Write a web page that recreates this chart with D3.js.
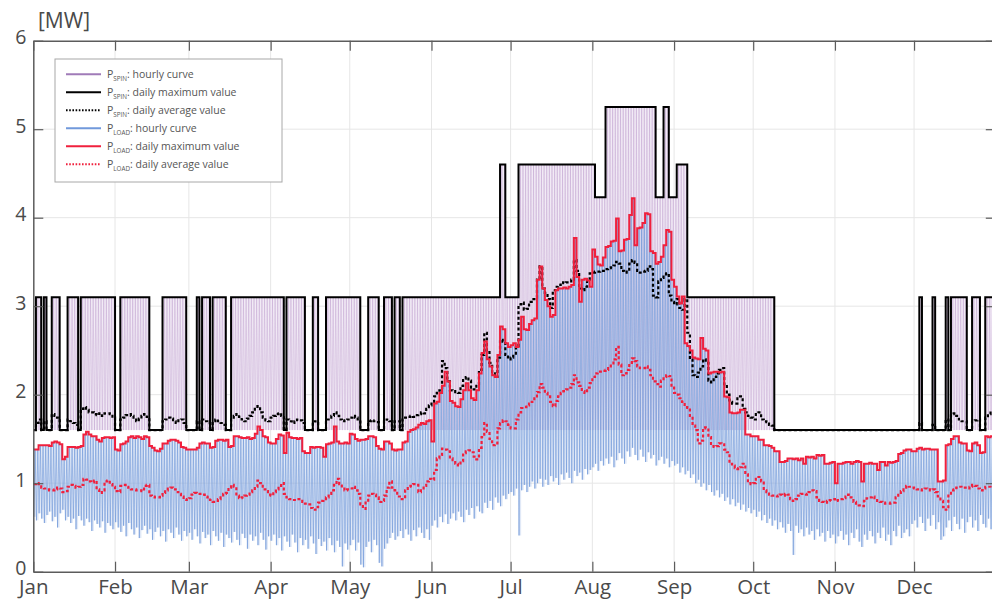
<!DOCTYPE html>
<html>
<head>
<meta charset="utf-8">
<script src="https://cdn.jsdelivr.net/npm/d3@7"></script>
<style>
  html, body { margin: 0; padding: 0; background: #fff; }
  svg { display: block; font-family: "Open Sans", "Noto Sans", sans-serif; }
</style>
</head>
<body>
<svg id="chart" width="992" height="601"></svg>
<script>
// ---- axis categories and ticks ----
const monthLabels = ["Jan", "Feb", "Mar", "Apr", "May", "Jun", "Jul", "Aug", "Sep", "Oct", "Nov", "Dec"];
const monthStarts = [0, 31, 59, 90, 120, 151, 181, 212, 243, 273, 304, 334];
const yTicks = [0, 1, 2, 3, 4, 5, 6];
const unitLabel = "[MW]";

// ---- spinning reserve: lower limit of the hourly curve [MW] ----
const spinFloor = 1.6;

// ---- spinning reserve: daily maximum [MW], one value per day ----
const spinMax = [
  1.6,3.1,3.1,1.6,3.1,1.6,1.6,3.1,3.1,3.1,1.6,1.6,1.6,3.1,3.1,3.1,3.1,1.6,3.1,3.1,3.1,3.1,3.1,3.1,3.1,3.1,3.1,3.1,3.1,3.1,3.1,
  1.6,1.6,3.1,3.1,3.1,3.1,3.1,3.1,3.1,3.1,3.1,3.1,3.1,1.6,1.6,1.6,1.6,1.6,3.1,3.1,3.1,3.1,3.1,3.1,3.1,3.1,3.1,1.6,
  1.6,1.6,1.6,3.1,1.6,3.1,3.1,3.1,1.6,3.1,3.1,3.1,3.1,3.1,1.6,1.6,3.1,3.1,3.1,3.1,3.1,3.1,3.1,3.1,3.1,3.1,3.1,3.1,3.1,3.1,3.1,
  3.1,3.1,3.1,3.1,3.1,1.6,3.1,3.1,3.1,3.1,3.1,3.1,3.1,1.6,1.6,1.6,3.1,3.1,1.6,1.6,1.6,3.1,3.1,3.1,3.1,3.1,3.1,3.1,3.1,3.1,
  3.1,3.1,3.1,3.1,1.6,1.6,1.6,3.1,3.1,3.1,3.1,1.6,1.6,3.1,3.1,3.1,1.6,3.1,3.1,1.6,3.1,3.1,3.1,3.1,3.1,3.1,3.1,3.1,3.1,3.1,3.1,
  3.1,3.1,3.1,3.1,3.1,3.1,3.1,3.1,3.1,3.1,3.1,3.1,3.1,3.1,3.1,3.1,3.1,3.1,3.1,3.1,3.1,3.1,3.1,3.1,3.1,3.1,4.6,4.6,3.1,3.1,
  3.1,3.1,3.1,4.6,4.6,4.6,4.6,4.6,4.6,4.6,4.6,4.6,4.6,4.6,4.6,4.6,4.6,4.6,4.6,4.6,4.6,4.6,4.6,4.6,4.6,4.6,4.6,4.6,4.6,4.6,4.6,
  4.6,4.23,4.23,4.23,4.23,5.25,5.25,5.25,5.25,5.25,5.25,5.25,5.25,5.25,5.25,5.25,5.25,5.25,5.25,5.25,5.25,5.25,5.25,5.25,4.23,4.23,4.23,5.25,5.25,4.23,4.23,
  4.23,4.6,4.6,4.6,4.6,3.1,3.1,3.1,3.1,3.1,3.1,3.1,3.1,3.1,3.1,3.1,3.1,3.1,3.1,3.1,3.1,3.1,3.1,3.1,3.1,3.1,3.1,3.1,3.1,3.1,
  3.1,3.1,3.1,3.1,3.1,3.1,3.1,3.1,1.6,1.6,1.6,1.6,1.6,1.6,1.6,1.6,1.6,1.6,1.6,1.6,1.6,1.6,1.6,1.6,1.6,1.6,1.6,1.6,1.6,1.6,1.6,
  1.6,1.6,1.6,1.6,1.6,1.6,1.6,1.6,1.6,1.6,1.6,1.6,1.6,1.6,1.6,1.6,1.6,1.6,1.6,1.6,1.6,1.6,1.6,1.6,1.6,1.6,1.6,1.6,1.6,1.6,
  1.6,1.6,3.1,1.6,1.6,1.6,1.6,3.1,1.6,1.6,1.6,1.6,3.1,1.6,3.1,3.1,3.1,3.1,3.1,3.1,1.6,1.6,3.1,3.1,3.1,1.6,1.6,3.1,3.1,3.1,3.1
];

// ---- spinning reserve: daily average [MW] ----
const spinAvg = [
  1.60,1.68,1.72,1.60,1.70,1.60,1.60,1.78,1.76,1.74,1.60,1.60,1.60,1.72,1.70,1.68,1.66,1.60,1.84,1.86,1.83,1.80,1.80,1.78,1.77,1.79,1.76,1.79,1.79,1.78,1.74,
  1.60,1.60,1.72,1.74,1.77,1.78,1.76,1.74,1.70,1.73,1.76,1.78,1.75,1.60,1.60,1.60,1.60,1.60,1.70,1.72,1.74,1.73,1.70,1.68,1.71,1.72,1.68,1.60,
  1.60,1.60,1.60,1.70,1.60,1.72,1.70,1.68,1.60,1.70,1.72,1.70,1.68,1.66,1.60,1.60,1.72,1.76,1.78,1.75,1.72,1.70,1.73,1.76,1.80,1.84,1.87,1.80,1.74,1.71,1.70,
  1.74,1.76,1.78,1.79,1.76,1.60,1.72,1.70,1.68,1.70,1.72,1.71,1.68,1.60,1.60,1.60,1.70,1.68,1.60,1.60,1.60,1.72,1.74,1.76,1.80,1.76,1.72,1.70,1.71,1.72,
  1.74,1.76,1.74,1.72,1.60,1.60,1.60,1.70,1.71,1.70,1.69,1.60,1.60,1.70,1.72,1.70,1.60,1.70,1.70,1.60,1.72,1.74,1.75,1.76,1.75,1.77,1.78,1.80,1.79,1.84,1.88,
  1.92,1.98,2.02,2.05,2.38,2.30,2.15,2.05,2.04,2.03,2.02,2.10,2.18,2.20,2.16,2.08,2.06,2.12,2.28,2.45,2.70,2.48,2.36,2.24,2.20,2.42,2.62,2.60,2.45,2.40,
  2.42,2.44,2.55,3.02,3.04,2.96,2.97,3.05,3.08,3.10,3.30,3.45,3.20,3.15,3.08,2.98,3.18,3.22,3.24,3.27,3.26,3.27,3.28,3.30,3.52,3.40,3.20,3.18,3.22,3.30,3.37,
  3.38,3.39,3.39,3.40,3.40,3.42,3.43,3.44,3.46,3.50,3.48,3.40,3.38,3.39,3.48,3.52,3.49,3.40,3.38,3.39,3.40,3.45,3.42,3.12,3.10,3.28,3.32,3.36,3.37,3.12,3.05,
  3.02,3.08,2.98,2.96,3.08,2.70,2.40,2.22,2.20,2.25,2.32,2.40,2.36,2.16,2.14,2.20,2.24,2.28,2.30,2.12,2.00,1.92,1.90,1.90,1.96,1.98,1.84,1.80,1.76,1.74,
  1.72,1.78,1.80,1.72,1.70,1.69,1.66,1.65,1.60,1.60,1.60,1.60,1.60,1.60,1.60,1.60,1.60,1.60,1.60,1.60,1.60,1.60,1.60,1.60,1.60,1.60,1.60,1.60,1.60,1.60,1.60,
  1.60,1.60,1.60,1.60,1.60,1.60,1.60,1.60,1.60,1.60,1.60,1.60,1.60,1.60,1.60,1.60,1.60,1.60,1.60,1.60,1.60,1.60,1.60,1.60,1.60,1.60,1.60,1.60,1.60,1.60,
  1.60,1.60,1.68,1.60,1.60,1.60,1.60,1.66,1.60,1.60,1.60,1.60,1.72,1.60,1.78,1.79,1.76,1.72,1.70,1.70,1.60,1.60,1.70,1.71,1.72,1.60,1.60,1.74,1.78,1.82,1.84
];

// ---- load: daily maximum [MW] ----
const loadMax = [
  1.38,1.38,1.43,1.43,1.43,1.43,1.42,1.46,1.47,1.46,1.44,1.27,1.30,1.41,1.41,1.41,1.40,1.41,1.42,1.55,1.58,1.55,1.53,1.53,1.49,1.47,1.51,1.52,1.52,1.51,1.52,
  1.38,1.37,1.44,1.45,1.47,1.52,1.53,1.51,1.53,1.52,1.50,1.53,1.52,1.42,1.40,1.37,1.36,1.39,1.45,1.45,1.48,1.49,1.49,1.48,1.46,1.41,1.40,1.38,
  1.38,1.38,1.38,1.40,1.45,1.46,1.45,1.45,1.40,1.41,1.48,1.49,1.49,1.48,1.49,1.41,1.42,1.53,1.53,1.52,1.51,1.51,1.52,1.50,1.51,1.56,1.64,1.60,1.53,1.52,1.46,
  1.45,1.45,1.50,1.55,1.54,1.34,1.57,1.52,1.51,1.51,1.50,1.51,1.36,1.34,1.34,1.41,1.40,1.41,1.41,1.40,1.30,1.44,1.45,1.46,1.64,1.47,1.45,1.45,1.46,1.45,
  1.56,1.55,1.50,1.48,1.49,1.49,1.50,1.53,1.53,1.52,1.42,1.39,1.38,1.47,1.47,1.45,1.38,1.37,1.38,1.38,1.46,1.47,1.58,1.60,1.61,1.63,1.66,1.68,1.67,1.70,1.71,
  1.47,1.90,1.92,2.02,2.10,2.26,2.15,1.93,1.91,1.87,1.86,1.95,2.05,2.13,2.05,1.96,1.94,2.05,2.24,2.47,2.60,2.40,2.32,2.22,2.20,2.45,2.77,2.74,2.58,2.54,
  2.56,2.58,2.54,2.62,2.88,2.74,2.73,2.80,2.84,2.86,3.30,3.45,3.20,3.07,3.00,2.88,2.90,3.18,3.20,3.20,3.21,3.20,3.22,3.24,3.77,3.33,3.05,3.30,3.31,3.29,3.22,
  3.64,3.56,3.47,3.46,3.55,3.67,3.68,3.73,3.74,3.99,3.62,3.63,3.75,3.76,4.03,4.22,3.69,3.88,3.89,3.94,4.05,4.04,3.62,3.60,3.48,3.50,3.56,3.69,3.86,3.84,3.30,
  3.22,3.11,3.03,3.11,2.58,2.55,2.50,2.42,2.41,2.40,2.64,2.52,2.50,2.24,2.25,2.26,2.26,2.25,2.26,1.98,1.97,1.80,1.79,1.79,1.80,1.83,1.83,1.55,1.55,1.53,
  1.53,1.53,1.49,1.49,1.43,1.43,1.42,1.40,1.36,1.36,1.24,1.24,1.25,1.28,1.28,1.27,1.28,1.26,1.28,1.22,1.30,1.29,1.30,1.28,1.32,1.31,1.32,1.22,1.22,1.23,1.24,
  1.00,1.22,1.22,1.23,1.24,1.24,1.22,1.24,1.25,1.24,1.02,1.22,1.22,1.23,1.22,1.22,1.15,1.24,1.24,1.20,1.24,1.23,1.24,1.25,1.33,1.34,1.37,1.38,1.38,1.36,
  1.36,1.39,1.40,1.38,1.39,1.39,1.38,1.38,1.38,1.02,1.02,1.03,1.43,1.44,1.50,1.53,1.53,1.46,1.45,1.45,1.37,1.36,1.45,1.46,1.43,1.34,1.35,1.53,1.52,1.53,1.55
];

// ---- load: daily average [MW] ----
const loadAvg = [
  0.99,1.00,0.99,0.95,0.94,0.93,0.92,0.92,0.93,0.95,0.94,0.90,0.91,0.96,0.98,0.97,0.95,0.96,0.98,1.05,1.04,1.02,1.01,1.03,0.93,0.89,0.92,1.02,1.03,0.99,0.96,
  0.91,0.90,0.97,0.98,0.96,0.95,0.93,0.93,0.92,0.92,0.91,0.97,0.98,0.86,0.85,0.84,0.84,0.86,0.89,0.92,0.94,0.95,0.93,0.90,0.88,0.85,0.82,0.81,
  0.83,0.87,0.89,0.88,0.88,0.87,0.85,0.84,0.81,0.79,0.80,0.82,0.84,0.88,0.89,0.95,0.98,0.96,0.86,0.83,0.84,0.86,0.87,0.90,0.92,0.96,1.03,1.00,0.93,0.91,0.87,
  0.86,0.90,0.93,0.97,1.00,0.88,0.84,0.82,0.81,0.81,0.82,0.82,0.79,0.77,0.76,0.72,0.70,0.73,0.78,0.80,0.82,0.84,0.88,0.92,0.98,1.05,0.99,0.94,0.92,0.93,
  0.94,0.96,0.92,0.88,0.76,0.71,0.78,0.86,0.88,0.87,0.84,0.79,0.80,0.86,0.95,1.02,0.95,0.92,0.85,0.82,0.82,0.92,0.96,0.97,0.99,0.98,0.90,0.92,0.97,1.02,1.05,
  1.04,1.15,1.28,1.32,1.39,1.38,1.36,1.28,1.26,1.22,1.20,1.25,1.34,1.36,1.37,1.35,1.30,1.27,1.40,1.52,1.68,1.58,1.50,1.43,1.45,1.62,1.68,1.71,1.70,1.66,
  1.62,1.62,1.72,1.80,1.85,1.86,1.88,1.90,1.92,1.96,2.03,2.12,2.08,2.02,1.98,1.92,1.87,1.93,1.98,2.02,2.04,2.06,2.08,2.12,2.22,2.14,2.10,2.04,2.02,2.08,2.13,
  2.20,2.24,2.26,2.26,2.27,2.28,2.30,2.33,2.40,2.54,2.34,2.22,2.24,2.28,2.36,2.41,2.38,2.32,2.30,2.30,2.32,2.28,2.22,2.15,2.12,2.09,2.16,2.20,2.22,2.21,2.08,
  2.02,2.00,1.96,1.92,1.86,1.85,1.76,1.65,1.60,1.45,1.48,1.63,1.62,1.52,1.42,1.41,1.42,1.45,1.44,1.38,1.35,1.22,1.20,1.17,1.16,1.18,1.22,1.10,1.00,0.99,
  1.00,1.05,1.07,1.02,0.92,0.90,0.87,0.86,0.86,0.85,0.87,0.86,0.88,0.87,0.82,0.80,0.82,0.86,0.88,0.88,0.87,0.90,0.92,0.91,0.84,0.80,0.79,0.78,0.80,0.81,0.82,
  0.80,0.81,0.82,0.83,0.85,0.87,0.84,0.79,0.77,0.75,0.74,0.80,0.83,0.84,0.85,0.83,0.80,0.79,0.78,0.77,0.77,0.78,0.78,0.84,0.89,0.91,0.95,0.97,0.96,0.95,
  0.94,0.93,0.92,0.93,0.94,0.93,0.92,0.93,0.90,0.85,0.80,0.73,0.70,0.86,0.92,0.93,0.95,0.96,0.95,0.95,0.94,0.96,0.98,0.97,0.94,0.92,0.94,0.96,0.96,0.95,0.96
];

// ---- load: daily minimum of the hourly curve [MW] ----
const loadMin = [
  0.62,0.58,0.66,0.60,0.55,0.64,0.68,0.57,0.62,0.50,0.66,0.70,0.58,0.62,0.55,0.60,0.48,0.63,0.58,0.52,0.60,0.56,0.46,0.58,0.54,0.50,0.57,0.44,0.55,0.52,0.48,
  0.56,0.50,0.45,0.52,0.40,0.55,0.48,0.42,0.50,0.38,0.47,0.52,0.43,0.48,0.36,0.45,0.50,0.40,0.46,0.34,0.48,0.44,0.38,0.50,0.42,0.35,0.46,0.40,
  0.44,0.36,0.48,0.40,0.32,0.45,0.38,0.42,0.30,0.46,0.40,0.35,0.44,0.28,0.42,0.38,0.33,0.45,0.36,0.30,0.43,0.38,0.26,0.42,0.35,0.40,0.30,0.44,0.36,0.25,0.40,
  0.35,0.42,0.30,0.38,0.24,0.40,0.34,0.28,0.42,0.33,0.22,0.38,0.30,0.36,0.26,0.40,0.32,0.20,0.37,0.29,0.34,0.24,0.38,0.30,0.22,0.35,0.28,0.06,0.32,0.25,
  0.30,0.36,0.24,0.33,0.08,0.05,0.28,0.34,0.22,0.36,0.30,0.10,0.06,0.26,0.32,0.38,0.44,0.36,0.40,0.46,0.38,0.48,0.42,0.35,0.47,0.40,0.50,0.44,0.38,0.48,0.36,
  0.52,0.58,0.50,0.62,0.56,0.65,0.54,0.60,0.66,0.58,0.68,0.62,0.56,0.70,0.64,0.72,0.60,0.74,0.68,0.66,0.78,0.72,0.80,0.70,0.84,0.78,0.74,0.86,0.82,0.88,
  0.90,0.86,0.94,0.41,0.92,0.98,0.90,0.96,1.02,0.94,1.00,1.05,0.96,1.04,0.98,1.08,1.02,1.06,0.98,1.10,1.04,1.12,1.06,1.00,1.14,1.08,1.12,1.04,1.16,1.10,1.15,
  1.18,1.22,1.14,1.25,1.20,1.28,1.22,1.30,1.18,1.26,1.34,1.28,1.22,1.36,1.30,1.40,1.32,1.26,1.38,1.30,1.24,1.35,1.28,1.32,1.20,1.26,1.30,1.22,1.28,1.18,1.25,
  1.20,1.22,1.12,1.18,1.10,1.14,1.06,1.10,1.00,1.04,0.96,1.00,0.92,0.98,0.90,0.86,0.92,0.84,0.88,0.80,0.84,0.76,0.82,0.74,0.78,0.70,0.76,0.68,0.72,0.66,
  0.70,0.62,0.68,0.58,0.64,0.55,0.60,0.52,0.58,0.48,0.56,0.50,0.44,0.54,0.46,0.19,0.52,0.44,0.48,0.40,0.50,0.42,0.46,0.36,0.48,0.40,0.44,0.34,0.46,0.38,0.42,
  0.32,0.40,0.46,0.36,0.42,0.30,0.44,0.38,0.48,0.34,0.28,0.42,0.36,0.46,0.40,0.32,0.44,0.38,0.50,0.35,0.42,0.30,0.46,0.40,0.52,0.38,0.44,0.48,0.40,0.54,
  0.58,0.50,0.62,0.55,0.46,0.60,0.52,0.64,0.48,0.56,0.36,0.40,0.50,0.58,0.46,0.62,0.54,0.48,0.60,0.44,0.56,0.62,0.50,0.58,0.46,0.64,0.54,0.50,0.60,0.48,0.56
];

// ---- legend entries ----
const legendSubs = ["SPIN", "SPIN", "SPIN", "LOAD", "LOAD", "LOAD"];
const legendTexts = [": hourly curve", ": daily maximum value", ": daily average value",
                     ": hourly curve", ": daily maximum value", ": daily average value"];

// ================= drawing =================
const W = 992, H = 601;
const plot = { left: 33.3, right: 995.8, top: 40.7, bottom: 571.7 };
const nDays = spinMax.length;

const x = d3.scaleLinear().domain([0, nDays]).range([plot.left, plot.right]);
const y = d3.scaleLinear().domain([0, 6]).range([plot.bottom, plot.top]);

const svg = d3.select("#chart");
svg.append("rect").attr("width", W).attr("height", H).attr("fill", "#fff");

const AXIS = "#5c5c5c", TEXT = "#4a4a4a", GRID = "#e6e6e6";
const PURPLE = "#b593c8", PURPLE_FILL = "#f2ebf6";
const BLUE = "#6f97d8", BLUE_FILL = "#b3c8ec";
const RED = "#f0203d";

// grid
const grid = svg.append("g");
grid.selectAll(".gx").data(monthStarts.slice(1)).join("line")
  .attr("x1", d => x(d)).attr("x2", d => x(d))
  .attr("y1", plot.top).attr("y2", plot.bottom)
  .attr("stroke", GRID).attr("stroke-width", 1);
grid.selectAll(".gy").data(yTicks.slice(1, -1)).join("line")
  .attr("x1", plot.left).attr("x2", plot.right)
  .attr("y1", d => y(d)).attr("y2", d => y(d))
  .attr("stroke", GRID).attr("stroke-width", 1);

svg.append("clipPath").attr("id", "plotClip").append("rect")
  .attr("x", plot.left).attr("y", plot.top)
  .attr("width", plot.right - plot.left).attr("height", plot.bottom - plot.top);

const data = svg.append("g").attr("clip-path", "url(#plotClip)");

const idx = d3.range(nDays);
const stairLine = d3.line().curve(d3.curveStepAfter).x(p => x(p[0])).y(p => y(p[1]));
const stairPts = vals => idx.map(i => [i, vals[i]]).concat([[nDays, vals[nDays - 1]]]);
const bandArea = d3.area().curve(d3.curveStepAfter)
  .x(p => x(p[0])).y0(p => y(p[1])).y1(p => y(p[2]));
const bandPts = (lo, hi) => idx.map(i => [i, lo(i), hi[i]]).concat([[nDays, lo(nDays - 1), hi[nDays - 1]]]);
// the hourly curve swings once a day between its daily low and its daily peak
const swingLine = d3.line().x(p => x(p[0])).y(p => y(p[1]));
const swingPts = (lo, hi) => idx.flatMap(i => [[i + 0.2, lo(i)], [i + 0.7, hi[i]]]);

// spinning reserve, hourly curve
data.append("path").attr("d", bandArea(bandPts(() => spinFloor, spinMax)))
  .attr("fill", PURPLE_FILL);
data.append("path").attr("d", swingLine(swingPts(() => spinFloor, spinMax)))
  .attr("fill", "none").attr("stroke", PURPLE).attr("stroke-width", 0.6).attr("opacity", 0.6);

// load, hourly curve
data.append("path").attr("d", bandArea(bandPts(i => loadMin[i], loadMax)))
  .attr("fill", BLUE_FILL).attr("opacity", 0.4);
data.append("path").attr("d", swingLine(swingPts(i => loadMin[i], loadMax)))
  .attr("fill", "none").attr("stroke", BLUE).attr("stroke-width", 0.8).attr("opacity", 0.75);

// spinning reserve daily max / average
data.append("path").attr("d", stairLine(stairPts(spinMax)))
  .attr("fill", "none").attr("stroke", "#000").attr("stroke-width", 2);
data.append("path").attr("d", stairLine(stairPts(spinAvg)))
  .attr("fill", "none").attr("stroke", "#000").attr("stroke-width", 2.2)
  .attr("stroke-dasharray", "3,2.4");

// load daily max / average
data.append("path").attr("d", stairLine(stairPts(loadMax)))
  .attr("fill", "none").attr("stroke", RED).attr("stroke-width", 2);
data.append("path").attr("d", stairLine(stairPts(loadAvg)))
  .attr("fill", "none").attr("stroke", RED).attr("stroke-width", 2.2)
  .attr("stroke-dasharray", "3,2.4");

// axes (box with inward ticks on all four sides)
const styleAxis = size => g => {
  g.select(".domain").attr("stroke", AXIS).attr("stroke-width", 1.5);
  g.selectAll(".tick line").attr("stroke", AXIS).attr("stroke-width", 1.2);
  g.selectAll(".tick text").attr("fill", TEXT).attr("font-size", size)
    .attr("font-family", '"Open Sans", "Noto Sans", sans-serif');
};

svg.append("g").attr("transform", `translate(0,${plot.bottom})`)
  .call(d3.axisBottom(x).tickValues(monthStarts).tickFormat((d, i) => monthLabels[i])
    .tickSizeInner(-10).tickSizeOuter(0).tickPadding(8))
  .call(styleAxis(20.5));
svg.append("g").attr("transform", `translate(0,${plot.top})`)
  .call(d3.axisTop(x).tickValues(monthStarts).tickFormat("")
    .tickSizeInner(-10).tickSizeOuter(0))
  .call(styleAxis(19));
svg.append("g").attr("transform", `translate(${plot.left},0)`)
  .call(d3.axisLeft(y).tickValues(yTicks).tickFormat(d3.format("d"))
    .tickSizeInner(-10).tickSizeOuter(0).tickPadding(7))
  .call(styleAxis(19.5))
  .call(g => g.selectAll(".tick text").attr("dy", "0.15em"));
svg.append("g").attr("transform", `translate(${plot.right},0)`)
  .call(d3.axisRight(y).tickValues(yTicks).tickFormat("")
    .tickSizeInner(-10).tickSizeOuter(0))
  .call(styleAxis(19));

// unit label
svg.append("text").attr("x", 38).attr("y", 28)
  .attr("fill", TEXT).attr("font-size", 21).text(unitLabel);

// legend
const legendStyles = [
  { stroke: "#a07bb8", dash: null },
  { stroke: "#000", dash: null },
  { stroke: "#000", dash: "1.6,1.6" },
  { stroke: "#7199db", dash: null },
  { stroke: RED, dash: null },
  { stroke: RED, dash: "1.6,1.6" }
];
const legend = svg.append("g").attr("transform", "translate(55,59)");
legend.append("rect").attr("width", 227).attr("height", 123)
  .attr("fill", "#fff").attr("stroke", "#a8a8a8").attr("stroke-width", 1);
legendTexts.forEach((t, i) => {
  const row = legend.append("g").attr("transform", `translate(0,${15.3 + i * 18})`);
  const st = legendStyles[i];
  row.append("line").attr("x1", 11).attr("x2", 46).attr("y1", 0).attr("y2", 0)
    .attr("stroke", st.stroke).attr("stroke-width", 2)
    .attr("stroke-dasharray", st.dash);
  const txt = row.append("text").attr("x", 52).attr("y", 4)
    .attr("fill", "#555").attr("font-size", 10.5);
  txt.append("tspan").text("P");
  txt.append("tspan").attr("font-size", 6.3).attr("dy", 2.8).text(legendSubs[i]);
  txt.append("tspan").attr("dy", -2.8).text(t);
});
</script>
</body>
</html>
